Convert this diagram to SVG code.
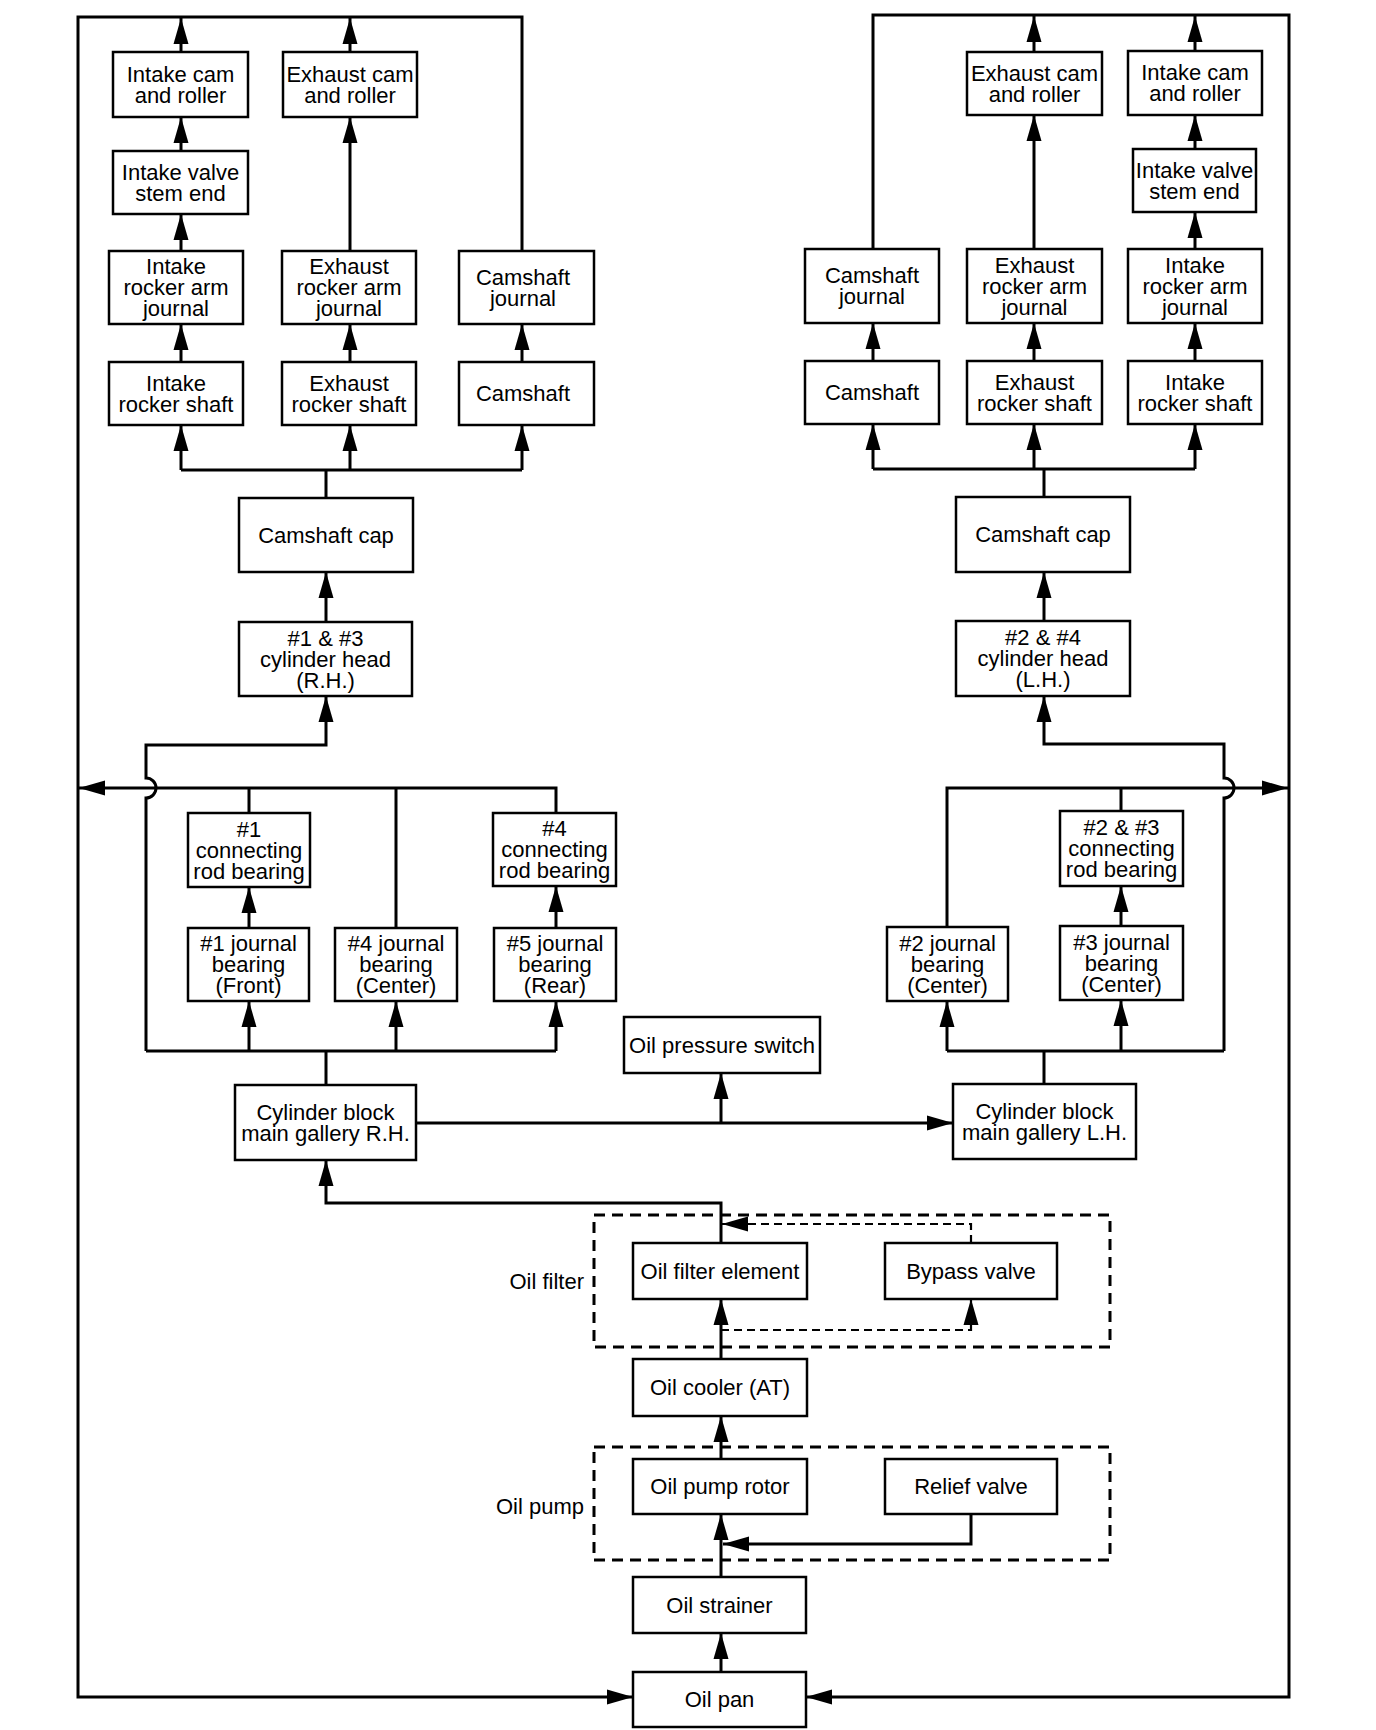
<svg xmlns="http://www.w3.org/2000/svg" width="1376" height="1730" viewBox="0 0 1376 1730">
<style>
.box{fill:#fff;stroke:#000;stroke-width:2.5}
.dbox{fill:none;stroke:#000;stroke-width:3;stroke-dasharray:11 7}
.ln{fill:none;stroke:#000;stroke-width:3}
.dl{fill:none;stroke:#000;stroke-width:2.2;stroke-dasharray:8 5}
text{font-family:'Liberation Sans',Arial,Helvetica,sans-serif;font-size:22px;fill:#000;text-anchor:middle}
.lbl{text-anchor:end}
</style>
<defs>
<marker id="ah" markerUnits="userSpaceOnUse" markerWidth="27" markerHeight="16" refX="26" refY="8" orient="auto">
<path d="M0,0.5 L26,8 L0,15.5 z" fill="#000"/>
</marker>
</defs>
<rect width="1376" height="1730" fill="#fff"/>

<g id="containers">
<g id="oil-filter"><rect class="dbox" x="594" y="1215" width="516" height="132"/><text class="lbl" x="584" y="1289">Oil filter</text></g>
<g id="oil-pump"><rect class="dbox" x="594" y="1447" width="516" height="113"/><text class="lbl" x="584" y="1514">Oil pump</text></g>
</g>

<g id="connectors">
<!-- outer return loops -->
<path class="ln" d="M522,251 V17 H78 V1697 H633" marker-end="url(#ah)"/>
<path class="ln" d="M873,249 V15 H1289 V1697 H806" marker-end="url(#ah)"/>
<!-- top left -->
<path class="ln" d="M181,52 V18" marker-end="url(#ah)"/>
<path class="ln" d="M350,52 V18" marker-end="url(#ah)"/>
<path class="ln" d="M181,151 V117" marker-end="url(#ah)"/>
<path class="ln" d="M181,251 V214" marker-end="url(#ah)"/>
<path class="ln" d="M350,251 V117" marker-end="url(#ah)"/>
<path class="ln" d="M181,362 V324" marker-end="url(#ah)"/>
<path class="ln" d="M350,362 V324" marker-end="url(#ah)"/>
<path class="ln" d="M522,362 V324" marker-end="url(#ah)"/>
<path class="ln" d="M181,470 H522 M326,498 V470"/>
<path class="ln" d="M181,470 V425" marker-end="url(#ah)"/>
<path class="ln" d="M350,470 V425" marker-end="url(#ah)"/>
<path class="ln" d="M522,470 V425" marker-end="url(#ah)"/>
<!-- top right -->
<path class="ln" d="M1034,52 V16" marker-end="url(#ah)"/>
<path class="ln" d="M1195,51 V16" marker-end="url(#ah)"/>
<path class="ln" d="M1034,249 V115" marker-end="url(#ah)"/>
<path class="ln" d="M1195,149 V115" marker-end="url(#ah)"/>
<path class="ln" d="M1195,249 V212" marker-end="url(#ah)"/>
<path class="ln" d="M873,361 V323" marker-end="url(#ah)"/>
<path class="ln" d="M1034,361 V323" marker-end="url(#ah)"/>
<path class="ln" d="M1195,361 V323" marker-end="url(#ah)"/>
<path class="ln" d="M873,469 H1195 M1044,497 V469"/>
<path class="ln" d="M873,469 V424" marker-end="url(#ah)"/>
<path class="ln" d="M1034,469 V424" marker-end="url(#ah)"/>
<path class="ln" d="M1195,469 V424" marker-end="url(#ah)"/>
<!-- heads to caps -->
<path class="ln" d="M326,622 V572" marker-end="url(#ah)"/>
<path class="ln" d="M1044,621 V572" marker-end="url(#ah)"/>
<!-- left block -->
<path class="ln" d="M146,1051 V798 A10,10 0 0 0 146,778 V745 H326 V696" marker-end="url(#ah)"/>
<path class="ln" d="M556,813 V788 H79" marker-end="url(#ah)"/>
<path class="ln" d="M249,813 V788 M396,928 V788"/>
<path class="ln" d="M249,928 V887" marker-end="url(#ah)"/>
<path class="ln" d="M556,928 V886" marker-end="url(#ah)"/>
<path class="ln" d="M146,1051 H556 M326,1085 V1051"/>
<path class="ln" d="M249,1051 V1001" marker-end="url(#ah)"/>
<path class="ln" d="M396,1051 V1001" marker-end="url(#ah)"/>
<path class="ln" d="M556,1051 V1001" marker-end="url(#ah)"/>
<!-- right block -->
<path class="ln" d="M1224,1051 V798 A10,10 0 0 0 1224,778 V744 H1044 V696" marker-end="url(#ah)"/>
<path class="ln" d="M947,927 V788 H1288" marker-end="url(#ah)"/>
<path class="ln" d="M1121,811 V788"/>
<path class="ln" d="M1121,926 V886" marker-end="url(#ah)"/>
<path class="ln" d="M947,1051 H1224 M1044,1084 V1051"/>
<path class="ln" d="M947,1051 V1001" marker-end="url(#ah)"/>
<path class="ln" d="M1121,1051 V1000" marker-end="url(#ah)"/>
<!-- gallery -->
<path class="ln" d="M416,1123 H953" marker-end="url(#ah)"/>
<path class="ln" d="M721,1123 V1073" marker-end="url(#ah)"/>
<!-- filter to RH -->
<path class="ln" d="M721,1243 V1203 H326 V1160" marker-end="url(#ah)"/>
<path class="dl" d="M971,1243 V1224 H722" marker-end="url(#ah)"/>
<path class="dl" d="M721,1330 H971 V1299" marker-end="url(#ah)"/>
<path class="ln" d="M721,1359 V1299" marker-end="url(#ah)"/>
<path class="ln" d="M721,1459 V1416" marker-end="url(#ah)"/>
<path class="ln" d="M971,1514 V1544 H723" marker-end="url(#ah)"/>
<path class="ln" d="M721,1577 V1514" marker-end="url(#ah)"/>
<path class="ln" d="M721,1672 V1633" marker-end="url(#ah)"/>
</g>

<g id="nodes">
<g id="l-intake-cam"><rect class="box" x="113" y="52" width="135" height="65"/><text x="180.5" y="82">Intake cam</text><text x="180.5" y="103">and roller</text></g>
<g id="l-exhaust-cam"><rect class="box" x="283" y="52" width="134" height="65"/><text x="350" y="82">Exhaust cam</text><text x="350" y="103">and roller</text></g>
<g id="l-intake-valve"><rect class="box" x="113" y="151" width="135" height="63"/><text x="180.5" y="180">Intake valve</text><text x="180.5" y="201">stem end</text></g>
<g id="l-intake-rocker-arm"><rect class="box" x="109" y="251" width="134" height="73"/><text x="176" y="274">Intake</text><text x="176" y="295">rocker arm</text><text x="176" y="316">journal</text></g>
<g id="l-exhaust-rocker-arm"><rect class="box" x="282" y="251" width="134" height="73"/><text x="349" y="274">Exhaust</text><text x="349" y="295">rocker arm</text><text x="349" y="316">journal</text></g>
<g id="l-camshaft-journal"><rect class="box" x="459" y="251" width="135" height="73"/><text x="523" y="285">Camshaft</text><text x="523" y="306">journal</text></g>
<g id="l-intake-rocker-shaft"><rect class="box" x="109" y="362" width="134" height="63"/><text x="176" y="391">Intake</text><text x="176" y="412">rocker shaft</text></g>
<g id="l-exhaust-rocker-shaft"><rect class="box" x="282" y="362" width="134" height="63"/><text x="349" y="391">Exhaust</text><text x="349" y="412">rocker shaft</text></g>
<g id="l-camshaft"><rect class="box" x="459" y="362" width="135" height="63"/><text x="523" y="401">Camshaft</text></g>

<g id="r-exhaust-cam"><rect class="box" x="967" y="52" width="135" height="63"/><text x="1034.5" y="81">Exhaust cam</text><text x="1034.5" y="102">and roller</text></g>
<g id="r-intake-cam"><rect class="box" x="1128" y="51" width="134" height="64"/><text x="1195" y="80">Intake cam</text><text x="1195" y="101">and roller</text></g>
<g id="r-intake-valve"><rect class="box" x="1133" y="149" width="123" height="63"/><text x="1194.5" y="178">Intake valve</text><text x="1194.5" y="199">stem end</text></g>
<g id="r-camshaft-journal"><rect class="box" x="805" y="249" width="134" height="74"/><text x="872" y="283">Camshaft</text><text x="872" y="304">journal</text></g>
<g id="r-exhaust-rocker-arm"><rect class="box" x="967" y="249" width="135" height="74"/><text x="1034.5" y="273">Exhaust</text><text x="1034.5" y="294">rocker arm</text><text x="1034.5" y="315">journal</text></g>
<g id="r-intake-rocker-arm"><rect class="box" x="1128" y="249" width="134" height="74"/><text x="1195" y="273">Intake</text><text x="1195" y="294">rocker arm</text><text x="1195" y="315">journal</text></g>
<g id="r-camshaft"><rect class="box" x="805" y="361" width="134" height="63"/><text x="872" y="400">Camshaft</text></g>
<g id="r-exhaust-rocker-shaft"><rect class="box" x="967" y="361" width="135" height="63"/><text x="1034.5" y="390">Exhaust</text><text x="1034.5" y="411">rocker shaft</text></g>
<g id="r-intake-rocker-shaft"><rect class="box" x="1128" y="361" width="134" height="63"/><text x="1195" y="390">Intake</text><text x="1195" y="411">rocker shaft</text></g>

<g id="l-camshaft-cap"><rect class="box" x="239" y="498" width="174" height="74"/><text x="326" y="543">Camshaft cap</text></g>
<g id="l-cylinder-head"><rect class="box" x="239" y="622" width="173" height="74"/><text x="325.5" y="646">#1 &amp; #3</text><text x="325.5" y="667">cylinder head</text><text x="325.5" y="688">(R.H.)</text></g>
<g id="r-camshaft-cap"><rect class="box" x="956" y="497" width="174" height="75"/><text x="1043" y="542">Camshaft cap</text></g>
<g id="r-cylinder-head"><rect class="box" x="956" y="621" width="174" height="75"/><text x="1043" y="645">#2 &amp; #4</text><text x="1043" y="666">cylinder head</text><text x="1043" y="687">(L.H.)</text></g>

<g id="conrod-1"><rect class="box" x="188" y="813" width="122" height="74"/><text x="249" y="837">#1</text><text x="249" y="858">connecting</text><text x="249" y="879">rod bearing</text></g>
<g id="conrod-4"><rect class="box" x="493" y="813" width="123" height="73"/><text x="554.5" y="836">#4</text><text x="554.5" y="857">connecting</text><text x="554.5" y="878">rod bearing</text></g>
<g id="journal-1"><rect class="box" x="188" y="928" width="121" height="73"/><text x="248.5" y="951">#1 journal</text><text x="248.5" y="972">bearing</text><text x="248.5" y="993">(Front)</text></g>
<g id="journal-4"><rect class="box" x="335" y="928" width="122" height="73"/><text x="396" y="951">#4 journal</text><text x="396" y="972">bearing</text><text x="396" y="993">(Center)</text></g>
<g id="journal-5"><rect class="box" x="494" y="928" width="122" height="73"/><text x="555" y="951">#5 journal</text><text x="555" y="972">bearing</text><text x="555" y="993">(Rear)</text></g>
<g id="conrod-23"><rect class="box" x="1060" y="811" width="123" height="75"/><text x="1121.5" y="835">#2 &amp; #3</text><text x="1121.5" y="856">connecting</text><text x="1121.5" y="877">rod bearing</text></g>
<g id="journal-2"><rect class="box" x="887" y="927" width="121" height="74"/><text x="947.5" y="951">#2 journal</text><text x="947.5" y="972">bearing</text><text x="947.5" y="993">(Center)</text></g>
<g id="journal-3"><rect class="box" x="1060" y="926" width="123" height="74"/><text x="1121.5" y="950">#3 journal</text><text x="1121.5" y="971">bearing</text><text x="1121.5" y="992">(Center)</text></g>

<g id="oil-pressure-switch"><rect class="box" x="624" y="1017" width="196" height="56"/><text x="722" y="1053">Oil pressure switch</text></g>
<g id="block-rh"><rect class="box" x="235" y="1085" width="181" height="75"/><text x="325.5" y="1120">Cylinder block</text><text x="325.5" y="1141">main gallery R.H.</text></g>
<g id="block-lh"><rect class="box" x="953" y="1084" width="183" height="75"/><text x="1044.5" y="1119">Cylinder block</text><text x="1044.5" y="1140">main gallery L.H.</text></g>

<g id="oil-filter-element"><rect class="box" x="633" y="1243" width="174" height="56"/><text x="720" y="1279">Oil filter element</text></g>
<g id="bypass-valve"><rect class="box" x="885" y="1243" width="172" height="56"/><text x="971" y="1279">Bypass valve</text></g>
<g id="oil-cooler"><rect class="box" x="633" y="1359" width="174" height="57"/><text x="720" y="1395">Oil cooler (AT)</text></g>
<g id="oil-pump-rotor"><rect class="box" x="633" y="1459" width="174" height="55"/><text x="720" y="1494">Oil pump rotor</text></g>
<g id="relief-valve"><rect class="box" x="885" y="1459" width="172" height="55"/><text x="971" y="1494">Relief valve</text></g>
<g id="oil-strainer"><rect class="box" x="633" y="1577" width="173" height="56"/><text x="719.5" y="1613">Oil strainer</text></g>
<g id="oil-pan"><rect class="box" x="633" y="1672" width="173" height="55"/><text x="719.5" y="1707">Oil pan</text></g>
</g>
</svg>
